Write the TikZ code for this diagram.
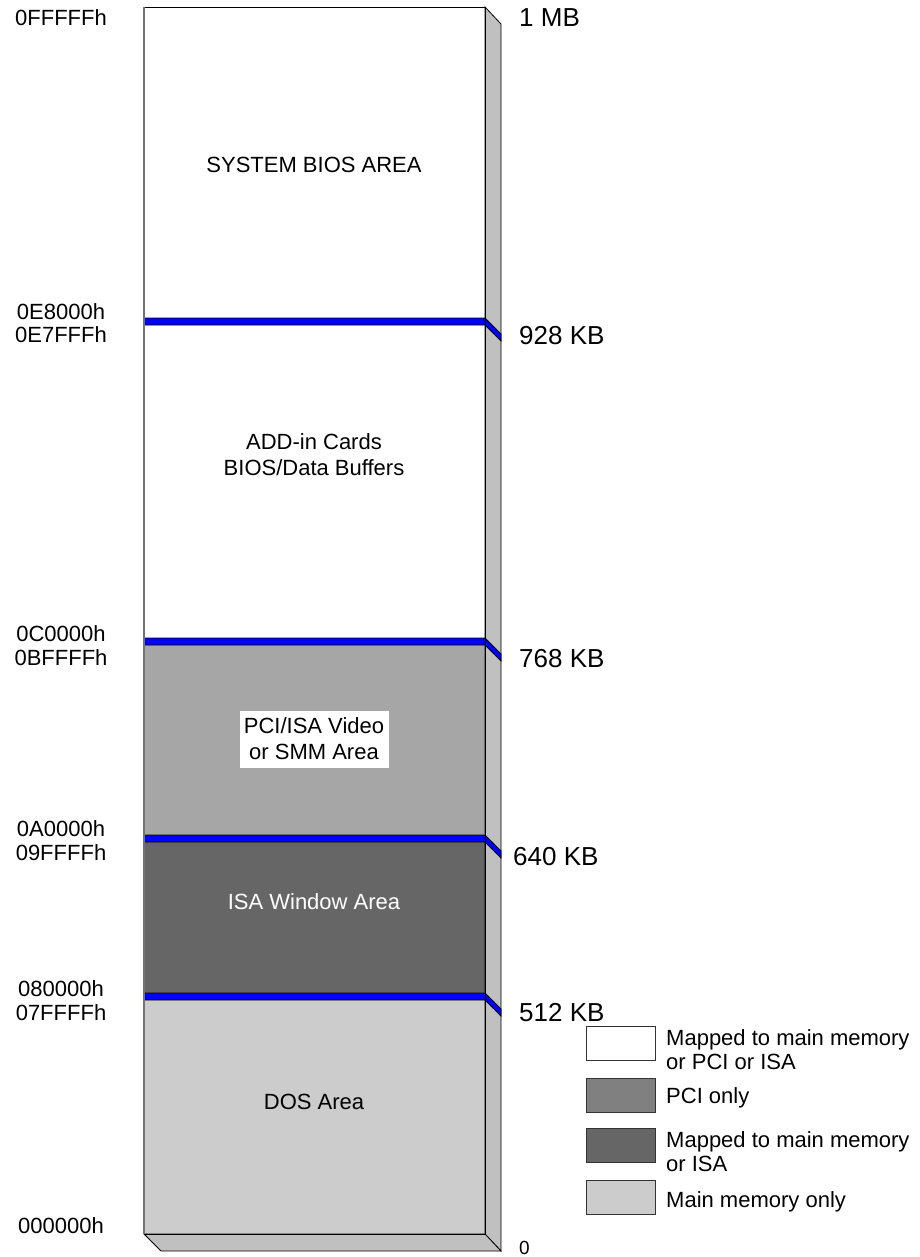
\documentclass[tikz,border=0pt]{standalone}
\usepackage{fontspec}
\setmainfont{Liberation Sans}
\definecolor{gvideo}{gray}{0.651}
\definecolor{gisa}{gray}{0.4}
\definecolor{gdos}{gray}{0.8}
\definecolor{gside}{gray}{0.753}
\definecolor{gpci}{gray}{0.502}
\definecolor{bandblue}{RGB}{0,0,255}
\begin{document}
\begin{tikzpicture}[x=1pt,y=-1pt,
  band/.style={draw=black,fill=bandblue,line width=0.8pt,line join=miter},
  addr/.style={font=\fontsize{22}{24}\selectfont,align=center,inner sep=0pt},
  kb/.style={font=\fontsize{26}{28}\selectfont,anchor=west,inner sep=0pt},
  area/.style={font=\fontsize{22}{26}\selectfont,align=center,inner sep=0pt},
  legbox/.style={draw=black!80,line width=0.7pt,minimum width=69pt,minimum height=34pt,inner sep=0pt,anchor=north west},
  legtxt/.style={font=\fontsize{22}{24}\selectfont,align=left,anchor=west,inner sep=0pt}]
\useasboundingbox (0,0) rectangle (919,1257);
% region fills
\fill[white] (144,7) rectangle (485,318);
\fill[white] (144,325) rectangle (485,638);
\fill[gvideo] (144,645) rectangle (485,835);
\fill[gisa] (144,842) rectangle (485,993);
\fill[gdos] (144,1000) rectangle (485,1234);
% side and bottom faces
\filldraw[fill=gside,draw=black,line width=0.8pt] (485,7)--(501,24)--(501,1251)--(485,1234)--cycle;
\filldraw[fill=gside,draw=black,line width=0.8pt] (144,1234)--(161,1251)--(501,1251)--(485,1234)--cycle;
% bands
\foreach \y in {318,638,835,993}{
  \filldraw[band] (144,\y)--(485,\y)--(501,\y+16)--(501,\y+23)--(485,\y+7)--(144,\y+7)--cycle;
}
% outlines
\draw[black,line width=0.8pt] (144,7)--(485,7)--(485,1234)--(144,1234);
\draw[black!55,line width=2pt] (144,7)--(144,1234);
% area labels
\node[area] (sys) at (314,165) {SYSTEM BIOS AREA};
\node[area] (add) at (314,455) {ADD-in Cards\\BIOS/Data Buffers};
\node[area,fill=white,inner xsep=4pt,inner ysep=4pt,minimum width=149pt,minimum height=57pt] (vid) at (314,739) {PCI/ISA Video\\or SMM Area};
\node[area,text=white] (isa) at (314,902) {ISA Window Area};
\node[area] (dos) at (314,1102) {DOS Area};
% address labels
\node[addr] (a1) at (61,18) {0FFFFFh};
\node[addr] (a2) at (61,312) {0E8000h};
\node[addr] (a3) at (61,335) {0E7FFFh};
\node[addr] (a4) at (61,634) {0C0000h};
\node[addr] (a5) at (61,658) {0BFFFFh};
\node[addr] (a6) at (61,829) {0A0000h};
\node[addr] (a7) at (61,853) {09FFFFh};
\node[addr] (a8) at (61,989) {080000h};
\node[addr] (a9) at (61,1013) {07FFFFh};
\node[addr] (a10) at (61,1226) {000000h};
% size labels
\node[kb] (k1) at (519,18) {1 MB};
\node[kb] (k2) at (519,336) {928 KB};
\node[kb] (k3) at (519,659) {768 KB};
\node[kb] (k4) at (513,857) {640 KB};
\node[kb] (k5) at (519,1013) {512 KB};
\node[kb,font=\fontsize{19}{21}\selectfont] (k6) at (519,1248) {0};
% legend
\node[legbox,fill=white] (l1) at (586,1026) {};
\node[legbox,fill=gpci] (l2) at (586,1078) {};
\node[legbox,fill=gisa] (l3) at (586,1128) {};
\node[legbox,fill=gdos] (l4) at (586,1180) {};
\node[legtxt] (t1) at (666,1050) {Mapped to main memory\\or PCI or ISA};
\node[legtxt] (t2) at (666,1098) {PCI only};
\node[legtxt] (t3) at (666,1152) {Mapped to main memory\\or ISA};
\node[legtxt] (t4) at (666,1202) {Main memory only};
\end{tikzpicture}
\end{document}
